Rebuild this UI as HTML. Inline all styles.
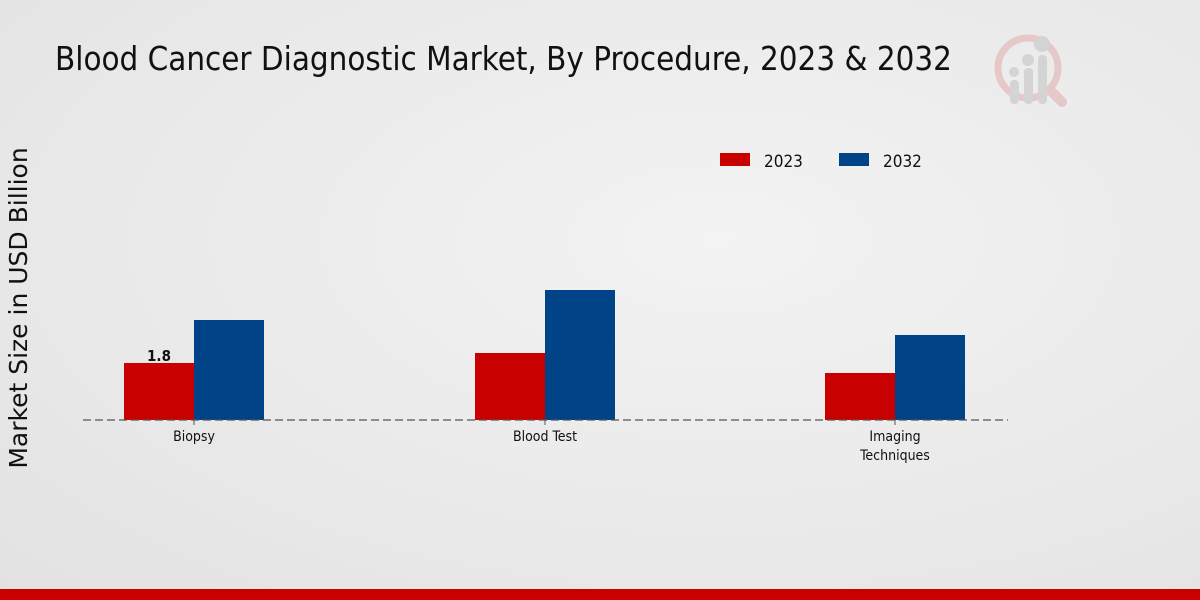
<!DOCTYPE html>
<html><head><style>
html,body{margin:0;padding:0}
body{width:1200px;height:600px;overflow:hidden;background:radial-gradient(ellipse at 60% 40%,#f3f3f3 0%,#e9e9e9 60%,#e2e2e2 100%);font-family:"DejaVu Sans Condensed","DejaVu Sans","Liberation Sans",sans-serif;position:relative}
</style></head><body>
<svg width="1200" height="600" style="position:absolute;left:0;top:0" font-family="DejaVu Sans Condensed, DejaVu Sans, Liberation Sans, sans-serif">
<text x="55" y="70" font-size="32.8" fill="#111">Blood Cancer Diagnostic Market, By Procedure, 2023 &amp; 2032</text>
<g opacity="0.35">
<circle cx="1028" cy="68" r="30" fill="none" stroke="#d88" stroke-width="7"/>
<line x1="1050" y1="90" x2="1062" y2="102" stroke="#d88" stroke-width="10" stroke-linecap="round"/>
<rect x="1010" y="80" width="9" height="24" rx="4" fill="#aaa"/>
<rect x="1024" y="68" width="9" height="36" rx="4" fill="#aaa"/>
<rect x="1038" y="55" width="9" height="49" rx="4" fill="#aaa"/>
<circle cx="1014" cy="72" r="5" fill="#aaa"/><circle cx="1028" cy="60" r="6" fill="#aaa"/><circle cx="1042" cy="44" r="8" fill="#aaa"/>
</g>
<text transform="translate(27,308) rotate(-90)" text-anchor="middle" font-size="25" fill="#111" font-family="DejaVu Sans, Liberation Sans, sans-serif">Market Size in USD Billion</text>
<rect x="720" y="153" width="30" height="13" fill="#c80000"/>
<text x="764" y="167" font-size="17" fill="#111">2023</text>
<rect x="839" y="153" width="30" height="13" fill="#004487"/>
<text x="883" y="167" font-size="17" fill="#111">2032</text>
<rect x="124" y="363" width="70" height="57" fill="#c80000"/>
<rect x="194" y="320" width="70" height="100" fill="#004487"/>
<rect x="475" y="353" width="70" height="67" fill="#c80000"/>
<rect x="545" y="290" width="70" height="130" fill="#004487"/>
<rect x="825" y="373" width="70" height="47" fill="#c80000"/>
<rect x="895" y="335" width="70" height="85" fill="#004487"/>
<line x1="83" y1="420" x2="1008" y2="420" stroke="#555" stroke-width="1.3" stroke-dasharray="8,4"/>
<line x1="194" y1="420" x2="194" y2="425" stroke="#555"/>
<line x1="545" y1="420" x2="545" y2="425" stroke="#555"/>
<line x1="895" y1="420" x2="895" y2="425" stroke="#555"/>
<text x="159" y="361" text-anchor="middle" font-size="15" font-weight="bold" fill="#111">1.8</text>
<g font-size="14" fill="#111" text-anchor="middle">
<text x="194" y="441">Biopsy</text>
<text x="545" y="441">Blood Test</text>
<text x="895" y="441">Imaging</text>
<text x="895" y="460">Techniques</text>
</g>
<rect x="0" y="589" width="1200" height="11" fill="#c80000"/>
</svg>
</body></html>
